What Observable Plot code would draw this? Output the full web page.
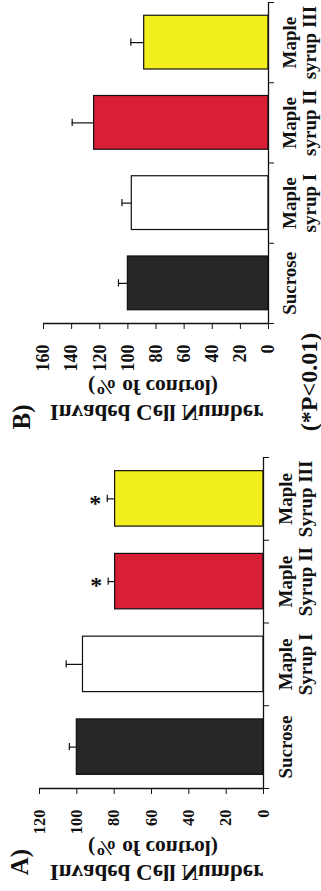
<!DOCTYPE html>
<html><head><meta charset="utf-8">
<script src="https://cdn.jsdelivr.net/npm/d3@7"></script>
<script src="https://cdn.jsdelivr.net/npm/@observablehq/plot@0.6"></script>
<style>
html,body{margin:0;padding:0;background:#fff;}
#chart{width:321px;height:891px;overflow:hidden;}
#chart svg{display:block;}
</style></head><body><div id="chart"></div>
<script>
const categoriesA = ["Sucrose", "Maple\nSyrup I", "Maple\nSyrup II", "Maple\nSyrup III"];
const categoriesB = ["Sucrose", "Maple\nsyrup I", "Maple\nsyrup II", "Maple\nsyrup III"];
const valuesA = [100, 96.7, 79.5, 79.5];
const errorsA = [4, 9, 3.7, 4.2];
const significantA = [false, false, true, true];
const valuesB = [100, 97.2, 124, 88.4];
const errorsB = [6.7, 7, 15.6, 9.5];
const significantB = [false, false, false, false];
const ticksA = [0, 20, 40, 60, 80, 100, 120];
const ticksB = [0, 20, 40, 60, 80, 100, 120, 140, 160];
const barColors = ["#262626", "#ffffff", "#d81f35", "#f3ee1e"];
const yAxisTitle = "Invaded Cell Number";
const yAxisSubtitle = "(% of control)";
const footnote = "(*P<0.01)";
const panelLabels = ["A)", "B)"];

const FONT = "'Liberation Serif','Times New Roman',serif";
const INK = "#111";

function panel(cfg) {
  const rows = cfg.categories.map((c, i) => ({
    i, label: c, value: cfg.values[i], err: cfg.errors[i], sig: cfg.sig[i], color: barColors[i]
  }));
  const pad = 0.165, cap = 0.045;
  const svg = Plot.plot({
    width: 321, height: cfg.height,
    marginTop: cfg.mt, marginBottom: cfg.mb, marginLeft: cfg.ml, marginRight: cfg.mr,
    style: {fontFamily: FONT, fontWeight: "bold", background: "#fff", color: INK, overflow: "visible"},
    x: {domain: [0, cfg.max], reverse: true},
    y: {domain: [0, 4]},
    marks: [
      Plot.rectX(rows, {x1: () => 0, x2: "value", y1: d => d.i + pad, y2: d => d.i + 1 - pad,
        fill: "color", stroke: INK, strokeWidth: 1.2}),
      Plot.ruleY(rows, {y: d => d.i + 0.5, x1: "value", x2: d => d.value + d.err, stroke: INK, strokeWidth: 1.2}),
      Plot.ruleX(rows, {x: d => d.value + d.err, y1: d => d.i + 0.5 - cap, y2: d => d.i + 0.5 + cap,
        stroke: INK, strokeWidth: 1.2}),
      Plot.text(rows.filter(d => d.sig), {x: d => d.value + d.err, y: d => d.i + 0.5, text: () => "*",
        dx: -12, dy: 4, fontSize: 24, fill: INK}),
      Plot.ruleX([0], {stroke: INK, strokeWidth: 1.3}),
      Plot.ruleY([0], {stroke: INK, strokeWidth: 1.3}),
      Plot.axisY({anchor: "right", ticks: [0, 1, 2, 3, 4], tickSize: 5, tickFormat: () => "", label: null, stroke: INK}),
      Plot.axisX({anchor: "bottom", ticks: cfg.ticks, tickSize: 6, tickPadding: 15, tickRotate: -90,
        fontSize: cfg.tickFont, label: null, stroke: INK, fill: INK}),
      Plot.text(rows, {x: () => 0, y: d => d.i + 0.5, text: "label", rotate: -90, textAnchor: "middle",
        lineAnchor: "top", lineHeight: 1.02, dx: cfg.labelDx, fontSize: 19, fill: INK})
    ]
  });
  const s = d3.select(svg);
  const mirrored = (text, cx, by, size) => s.append("text")
    .attr("transform", `translate(${cx},${by}) scale(1,-1)`)
    .attr("text-anchor", "middle").attr("font-size", size)
    .attr("font-family", FONT).attr("font-weight", "bold").attr("fill", INK).text(text);
  const rotated = (text, cx, cy, size) => s.append("text")
    .attr("transform", `translate(${cx},${cy}) rotate(-90)`)
    .attr("text-anchor", "middle").attr("dominant-baseline", "central").attr("font-size", size)
    .attr("font-family", FONT).attr("font-weight", "bold").attr("fill", INK).text(text);
  mirrored(yAxisTitle, 156.5, cfg.titleY, 23);
  mirrored(yAxisSubtitle, 153, cfg.subY, 21.5);
  rotated(cfg.panelLabel, cfg.plX, cfg.plY, 25);
  if (cfg.foot) rotated(cfg.foot, 309, cfg.footY, 24);
  return svg;
}

const root = document.getElementById("chart");
root.appendChild(panel({
  categories: categoriesB, values: valuesB, errors: errorsB, sig: significantB, ticks: ticksB, max: 160,
  height: 440, mt: 2, mb: 117, ml: 43, mr: 53, tickFont: 18, labelDx: 14,
  titleY: 405, subY: 380, panelLabel: panelLabels[1], plX: 21.5, plY: 417, foot: footnote, footY: 382
}));
root.appendChild(panel({
  categories: categoriesA, values: valuesA, errors: errorsA, sig: significantA, ticks: ticksA, max: 120,
  height: 451, mt: 17, mb: 103, ml: 39, mr: 58, tickFont: 16.5, labelDx: 15,
  titleY: 425, subY: 401, panelLabel: panelLabels[0], plX: 19, plY: 422, foot: null
}));
</script></body></html>
